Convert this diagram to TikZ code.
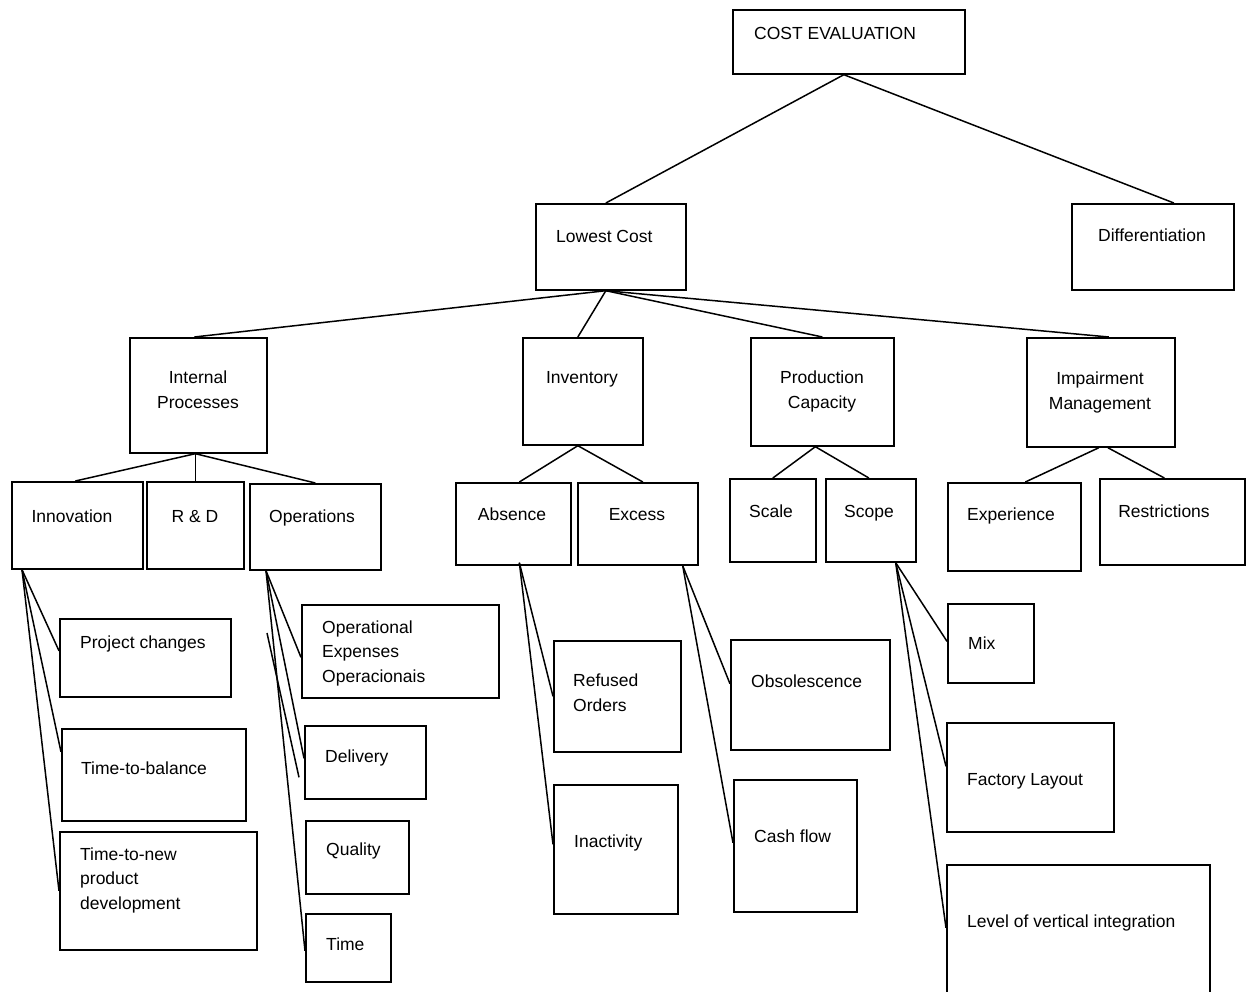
\documentclass[tikz,border=0pt]{standalone}
\usepackage{fontspec}
\setmainfont{Liberation Sans}
\usepackage{tikz}
\usetikzlibrary{positioning, calc}

\begin{document}
\begin{tikzpicture}[
        x=1pt, y=-1pt,
        box/.style  = {draw, line width=1.7pt, anchor=north west, inner sep=0pt},
        txt/.style  = {inner sep=0pt, align=center, font=\fontsize{17.5}{24.5}\selectfont},
        txtl/.style = {txt, align=left},
        link/.style = {line width=1.5pt},
    ]
        \useasboundingbox (0,0) rectangle (1247,992);
        % levels 0 and 1
        \node[box, minimum width=232, minimum height=64] (cost) at (732,9) {};
        \node[box, minimum width=150, minimum height=86] (lowest) at (535,203) {};
        \node[box, minimum width=162, minimum height=86] (diff) at (1071,203) {};
        % level 2
        \node[box, minimum width=137, minimum height=115] (intproc) at (129,337) {};
        \node[box, minimum width=120, minimum height=107] (invent) at (522,337) {};
        \node[box, minimum width=143, minimum height=108] (prodcap) at (750,337) {};
        \node[box, minimum width=148, minimum height=109] (impair) at (1026,337) {};
        % level 3
        \node[box, minimum width=131, minimum height=87] (innov) at (11,481) {};
        \node[box, minimum width=97, minimum height=87] (rnd) at (146,481) {};
        \node[box, minimum width=131, minimum height=86] (oper) at (249,483) {};
        \node[box, minimum width=115, minimum height=82] (absence) at (455,482) {};
        \node[box, minimum width=120, minimum height=82] (excess) at (577,482) {};
        \node[box, minimum width=86, minimum height=83] (scale) at (729,478) {};
        \node[box, minimum width=90, minimum height=83] (scope) at (825,478) {};
        \node[box, minimum width=133, minimum height=88] (exper) at (947,482) {};
        \node[box, minimum width=145, minimum height=86] (restr) at (1099,478) {};
        % level 4
        \node[box, minimum width=171, minimum height=78] (projch) at (59,618) {};
        \node[box, minimum width=184, minimum height=92] (timebal) at (61,728) {};
        \node[box, minimum width=197, minimum height=118] (timenew) at (59,831) {};
        \node[box, minimum width=197, minimum height=93] (opex) at (301,604) {};
        \node[box, minimum width=121, minimum height=73] (delivery) at (304,725) {};
        \node[box, minimum width=103, minimum height=73] (quality) at (305,820) {};
        \node[box, minimum width=85, minimum height=68] (time) at (305,913) {};
        \node[box, minimum width=127, minimum height=111] (refused) at (553,640) {};
        \node[box, minimum width=124, minimum height=129] (inact) at (553,784) {};
        \node[box, minimum width=159, minimum height=110] (obsol) at (730,639) {};
        \node[box, minimum width=123, minimum height=132] (cashfl) at (733,779) {};
        \node[box, minimum width=86, minimum height=79] (mix) at (947,603) {};
        \node[box, minimum width=167, minimum height=109] (factory) at (946,722) {};
        \node[box, minimum width=263, minimum height=140] (levelvi) at (946,864) {};

        % texts (base = last line)
        \node[txtl, anchor=base west] (cost-t) at (754,40) {COST EVALUATION};
        \node[txtl, anchor=base west] (lowest-t) at (556,243) {Lowest Cost};
        \node[txt, anchor=base] (diff-t) at (1152,242) {Differentiation};
        \node[txt, anchor=base] (intproc-t) at (198,408) {Internal\\Processes};
        \node[txt, anchor=base] (invent-t) at (582,383) {Inventory};
        \node[txt, anchor=base] (prodcap-t) at (822,408) {Production\\Capacity};
        \node[txt, anchor=base] (impair-t) at (1100,409) {Impairment\\Management};
        \node[txt, anchor=base] (innov-t) at (72,522) {Innovation};
        \node[txt, anchor=base] (rnd-t) at (195,522) {R \& D};
        \node[txt, anchor=base] (oper-t) at (312,522) {Operations};
        \node[txt, anchor=base] (absence-t) at (512,520) {Absence};
        \node[txt, anchor=base] (excess-t) at (637,520) {Excess};
        \node[txt, anchor=base] (scale-t) at (771,517) {Scale};
        \node[txt, anchor=base] (scope-t) at (869,517) {Scope};
        \node[txt, anchor=base] (exper-t) at (1011,520) {Experience};
        \node[txt, anchor=base] (restr-t) at (1164,517) {Restrictions};
        \node[txtl, anchor=base west] (projch-t) at (80,648) {Project changes};
        \node[txtl, anchor=base west] (timebal-t) at (81,774) {Time-to-balance};
        \node[txtl, anchor=base west] (timenew-t) at (80,909) {Time-to-new\\product\\development};
        \node[txtl, anchor=base west] (opex-t) at (322,682) {Operational\\Expenses\\Operacionais};
        \node[txtl, anchor=base west] (delivery-t) at (325,762) {Delivery};
        \node[txtl, anchor=base west] (quality-t) at (326,855) {Quality};
        \node[txtl, anchor=base west] (time-t) at (326,950) {Time};
        \node[txtl, anchor=base west] (refused-t) at (573,711) {Refused\\Orders};
        \node[txtl, anchor=base west] (inact-t) at (574,847) {Inactivity};
        \node[txtl, anchor=base west] (obsol-t) at (751,687) {Obsolescence};
        \node[txtl, anchor=base west] (cashfl-t) at (754,842) {Cash flow};
        \node[txtl, anchor=base west] (mix-t) at (968,649) {Mix};
        \node[txtl, anchor=base west] (factory-t) at (967,785) {Factory Layout};
        \node[txtl, anchor=base west] (levelvi-t) at (967,927) {Level of vertical integration};

        % connectors
        \draw[link] ([xshift=-5]cost.south) -- ([xshift=-5]lowest.north);
        \draw[link] ([xshift=-5]cost.south) -- ([xshift=21]diff.north);
        \draw[link] ([xshift=-5]lowest.south) -- ([xshift=-4]intproc.north);
        \draw[link] ([xshift=-5]lowest.south) -- ([xshift=-5]invent.north);
        \draw[link] ([xshift=-5]lowest.south) -- (prodcap.north);
        \draw[link] ([xshift=-5]lowest.south) -- ([xshift=8]impair.north);
        \draw[link] ([xshift=-3]intproc.south) -- ([xshift=-2]innov.north);
        \draw[link] ([xshift=-3]intproc.south) -- (rnd.north);
        \draw[link] ([xshift=-3]intproc.south) -- (oper.north);
        \draw[link] ([xshift=-5]invent.south) -- ([xshift=6]absence.north);
        \draw[link] ([xshift=-5]invent.south) -- ([xshift=5]excess.north);
        \draw[link] ([xshift=-7]prodcap.south) -- (scale.north);
        \draw[link] ([xshift=-7]prodcap.south) -- ([xshift=-2]scope.north);
        \draw[link] ([xshift=-2]impair.south) -- ([xshift=11]exper.north);
        \draw[link] ([xshift=7]impair.south) -- ([xshift=-8]restr.north);
        % fans
        \draw[link] ([xshift=11]innov.south west) -- ([yshift=7]projch.west);
        \draw[link] ([xshift=11]innov.south west) -- ([yshift=23]timebal.west);
        \draw[link] ([xshift=11]innov.south west) -- (timenew.west);
        \draw[link] ([xshift=17]oper.south west) -- ([yshift=-6]opex.west);
        \draw[link] ([xshift=17]oper.south west) -- ([yshift=4]delivery.west);
        \draw[link] ([xshift=17]oper.south west) -- ([yshift=-3]time.west);
        \coordinate (stray) at (267,633);
        \draw[link] (stray) -- ([xshift=-5,yshift=-15]delivery.west);
        \draw[link] ([xshift=6,yshift=3]absence.south) -- (refused.west);
        \draw[link] ([xshift=6,yshift=3]absence.south) -- ([yshift=5]inact.west);
        \draw[link] ([xshift=-16]excess.south east) -- ([yshift=11]obsol.west);
        \draw[link] ([xshift=-16]excess.south east) -- ([yshift=3]cashfl.west);
        \draw[link] ([xshift=-21]scope.south east) -- ([yshift=2]mix.west);
        \draw[link] ([xshift=-21]scope.south east) -- ([yshift=11]factory.west);
        \draw[link] ([xshift=-21]scope.south east) -- ([yshift=7]levelvi.west);
    \end{tikzpicture}
\end{document}
